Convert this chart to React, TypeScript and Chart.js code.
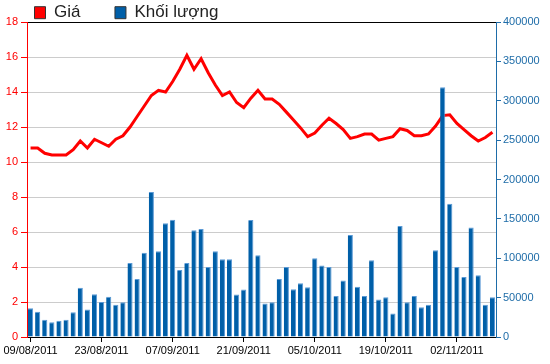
import React, { useEffect, useRef } from 'react';
import { Chart, registerables } from 'chart.js';

Chart.register(...registerables);

const dates = [
  '09/08/2011', '10/08/2011', '11/08/2011', '12/08/2011', '15/08/2011', '16/08/2011', '17/08/2011', '18/08/2011', '19/08/2011', '22/08/2011',
  '23/08/2011', '24/08/2011', '25/08/2011', '26/08/2011', '29/08/2011', '30/08/2011', '31/08/2011', '01/09/2011', '05/09/2011', '06/09/2011',
  '07/09/2011', '08/09/2011', '09/09/2011', '12/09/2011', '13/09/2011', '14/09/2011', '15/09/2011', '16/09/2011', '19/09/2011', '20/09/2011',
  '21/09/2011', '22/09/2011', '23/09/2011', '26/09/2011', '27/09/2011', '28/09/2011', '29/09/2011', '30/09/2011', '03/10/2011', '04/10/2011',
  '05/10/2011', '06/10/2011', '07/10/2011', '10/10/2011', '11/10/2011', '12/10/2011', '13/10/2011', '14/10/2011', '17/10/2011', '18/10/2011',
  '19/10/2011', '20/10/2011', '21/10/2011', '24/10/2011', '25/10/2011', '26/10/2011', '27/10/2011', '28/10/2011', '31/10/2011', '01/11/2011',
  '02/11/2011', '03/11/2011', '04/11/2011', '07/11/2011', '08/11/2011', '09/11/2011',
];

const tickLabels = ['09/08/2011', '23/08/2011', '07/09/2011', '21/09/2011', '05/10/2011', '19/10/2011', '02/11/2011'];

const price = [
  10.8, 10.8, 10.5, 10.4, 10.4, 10.4, 10.7, 11.2, 10.8, 11.3,
  11.1, 10.9, 11.3, 11.5, 12.0, 12.6, 13.2, 13.8, 14.1, 14.0,
  14.6, 15.3, 16.1, 15.3, 15.9, 15.1, 14.4, 13.8, 14.0, 13.4,
  13.1, 13.65, 14.1, 13.6, 13.6, 13.3, 12.85, 12.4, 11.95, 11.45,
  11.65, 12.1, 12.5, 12.2, 11.85, 11.35, 11.45, 11.6, 11.6, 11.25,
  11.35, 11.45, 11.9, 11.8, 11.5, 11.5, 11.6, 12.05, 12.65, 12.7,
  12.2, 11.85, 11.5, 11.2, 11.4, 11.7,
];

const volume = [
  36500, 32000, 21800, 18800, 20500, 21800, 31400, 62400, 34900, 54300,
  44600, 51000, 40800, 44100, 94100, 73800, 107100, 184100, 108800, 144300,
  149000, 85200, 94100, 135400, 137200, 89000, 108800, 98700, 98700, 53900,
  60200, 148600, 103700, 42500, 44100, 73800, 89000, 60600, 68200, 63100,
  99900, 90700, 89000, 52200, 71600, 129600, 63700, 52200, 97400, 47600,
  50500, 29800, 141000, 44100, 52200, 37800, 40800, 110100, 317300, 169300,
  89000, 76300, 139200, 78400, 40800, 50500,
];

const FONT = 'Liberation Sans, Arial, sans-serif';

export default function App() {
  const ref = useRef<HTMLCanvasElement>(null);

  useEffect(() => {
    if (!ref.current) return;
    const legendShift = {
      id: 'legendShift',
      afterLayout(chart: any) {
        const lg = chart.legend;
        if (lg) {
          lg.top = 4.2 - 34.5;
        }
      },
    };
    const whiteBg = {
      id: 'whiteBg',
      beforeDraw(chart: any) {
        const c = chart.ctx;
        c.save();
        c.fillStyle = '#ffffff';
        c.fillRect(0, 0, chart.width, chart.height);
        c.restore();
      },
    };
    const chart = new Chart(ref.current, {
      type: 'bar',
      data: {
        labels: dates,
        datasets: [
          {
            type: 'line',
            label: 'Giá',
            data: price,
            yAxisID: 'y',
            borderColor: '#ff0000',
            backgroundColor: '#ff0000',
            borderWidth: 3,
            pointRadius: 0,
            pointHoverRadius: 0,
            tension: 0,
            order: 1,
          } as any,
          {
            type: 'bar',
            label: 'Khối lượng',
            data: volume,
            yAxisID: 'y1',
            backgroundColor: '#005fa8',
            borderColor: '#5b9ad6',
            borderWidth: { top: 1, right: 1, left: 0, bottom: 0 },
            categoryPercentage: 1,
            barPercentage: 0.72,
            order: 0,
          } as any,
        ],
      },
      options: {
        responsive: false,
        animation: false,
        devicePixelRatio: 1,
        layout: { padding: 0 },
        plugins: {
          tooltip: { enabled: false },
          legend: {
            display: true,
            position: 'top',
            align: 'start',
            maxHeight: 22,
            labels: {
              boxWidth: 11,
              boxHeight: 12,
              padding: 34.5,
              color: '#222222',
              font: { family: FONT, size: 17 },
              sort: (a: any, b: any) => a.datasetIndex - b.datasetIndex,
              generateLabels: (chart: any) => {
                const items = Chart.defaults.plugins.legend.labels.generateLabels(chart);
                return items.map((it: any) => ({ ...it, strokeStyle: '#333333', lineWidth: 1 }));
              },
            },
          },
        },
        scales: {
          x: {
            type: 'category',
            offset: true,
            grid: {
              display: true,
              offset: false,
              drawOnChartArea: false,
              drawTicks: true,
              tickLength: 5,
              color: (ctx: any) => (ctx.tick && tickLabels.includes(dates[ctx.index]) ? '#000000' : 'rgba(0,0,0,0)'),
            },
            border: { display: true, color: '#000000', width: 1 },
            ticks: {
              autoSkip: false,
              maxRotation: 0,
              minRotation: 0,
              padding: 2,
              color: '#000000',
              font: { family: FONT, size: 11 },
              callback: (_v: any, i: number) => (tickLabels.includes(dates[i]) ? dates[i] : ''),
            },
            afterFit: (s: any) => {
              s.height = 27;
            },
          },
          y: {
            type: 'linear',
            position: 'left',
            min: 0,
            max: 18,
            grid: {
              display: true,
              drawOnChartArea: true,
              drawTicks: true,
              tickLength: 6,
              lineWidth: 1,
              color: (ctx: any) => (ctx.tick && ctx.tick.value === 18 ? '#000000' : '#cccccc'),
              tickColor: '#ff0000',
            },
            border: { display: true, color: '#ff0000', width: 1 },
            ticks: {
              stepSize: 2,
              padding: 3,
              color: '#ff0000',
              font: { family: FONT, size: 11 },
            },
            afterFit: (s: any) => {
              s.width = 27;
            },
          },
          y1: {
            type: 'linear',
            position: 'right',
            min: 0,
            max: 400000,
            grid: {
              display: true,
              drawOnChartArea: false,
              drawTicks: true,
              tickLength: 5,
              color: '#1e6ca8',
              tickColor: '#1e6ca8',
            },
            border: { display: true, color: '#1e6ca8', width: 1 },
            ticks: {
              stepSize: 50000,
              padding: 2,
              color: '#1e6ca8',
              font: { family: FONT, size: 11 },
              callback: (v: any) => String(v),
            },
            afterFit: (s: any) => {
              s.width = 54;
            },
          },
        },
      } as any,
      plugins: [legendShift, whiteBg],
    });
    return () => {
      chart.destroy();
    };
  }, []);

  return (
    <div style={{ position: 'absolute', left: 0, top: 0, width: 550, height: 364 }}>
      <canvas ref={ref} width={550} height={364} style={{ display: 'block' }} />
    </div>
  );
}
